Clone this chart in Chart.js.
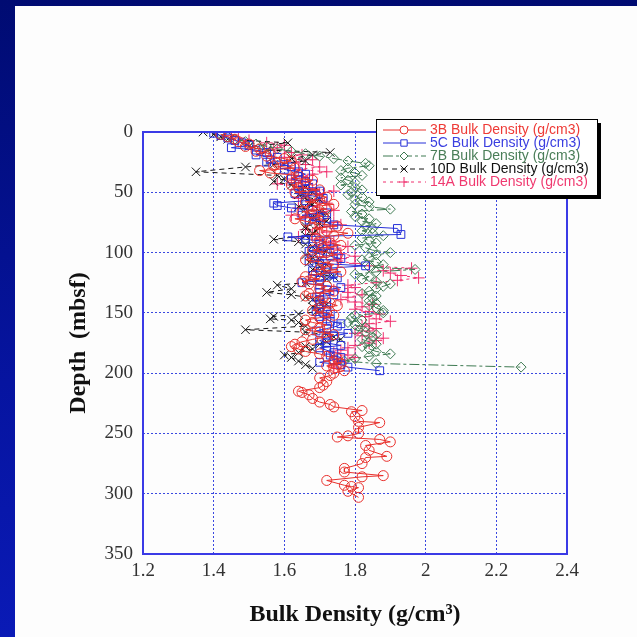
<!DOCTYPE html>
<html>
<head>
<meta charset="utf-8">
<script src="https://cdn.jsdelivr.net/npm/chart.js@4.4.1/dist/chart.umd.min.js"></script>
<style>
  html, body { margin: 0; padding: 0; }
  body {
    width: 637px; height: 637px; position: relative; overflow: hidden;
    background: linear-gradient(180deg, #000b72 0%, #0614a0 60%, #0a1ab6 100%);
  }
  #panel { position: absolute; left: 15px; top: 6px; width: 622px; height: 631px; background: #fdfdfd; }
  #chart { position: absolute; left: 0; top: 0; }
</style>
</head>
<body>
<div id="panel"></div>
<canvas id="chart" width="637" height="637"></canvas>
<script>
// Axis ticks
const xTicks = [1.2, 1.4, 1.6, 1.8, 2, 2.2, 2.4];
const yTicks = [0, 50, 100, 150, 200, 250, 300, 350];

// 3B
const depth3B = [
  2, 4, 6, 8, 10, 12, 14, 16, 18, 20,
  22, 24, 26, 28, 30, 32, 34, 36, 38, 40,
  42, 44, 46, 48, 50, 52, 54, 56, 58, 60,
  62, 64, 66, 68, 70, 72, 74, 76, 78, 80,
  82, 84, 86, 88, 90, 92, 94, 96, 98, 100,
  102, 104, 106, 108, 110, 112, 114, 116, 118, 120,
  122, 124, 126, 128, 130, 132, 134, 136, 138, 140,
  142, 144, 146, 148, 150, 152, 154, 156, 158, 160,
  162, 164, 166, 168, 170, 172, 174, 176, 178, 180,
  182, 184, 186, 188, 190, 192, 194, 196, 198, 200,
  202, 204, 207, 210, 212, 215, 216, 218, 221, 224,
  226, 228, 231, 232, 236, 240, 241, 245, 250, 252,
  253, 255, 257, 260, 264, 269, 270, 275, 279, 282,
  285, 286, 289, 293, 294, 295, 298, 303];
const dens3B = [
  1.42, 1.44, 1.46, 1.47, 1.50, 1.49, 1.53, 1.52, 1.56, 1.55,
  1.60, 1.62, 1.58, 1.57, 1.63, 1.53, 1.56, 1.64, 1.62, 1.68,
  1.66, 1.62, 1.64, 1.70, 1.63, 1.68, 1.72, 1.70, 1.66, 1.74,
  1.68, 1.72, 1.65, 1.68, 1.71, 1.63, 1.66, 1.70, 1.75, 1.68,
  1.72, 1.78, 1.74, 1.69, 1.70, 1.73, 1.76, 1.71, 1.68, 1.72,
  1.75, 1.68, 1.66, 1.71, 1.74, 1.72, 1.70, 1.76, 1.69, 1.66,
  1.70, 1.65, 1.67, 1.72, 1.70, 1.74, 1.67, 1.66, 1.71, 1.70,
  1.73, 1.75, 1.70, 1.68, 1.72, 1.74, 1.70, 1.66, 1.68, 1.72,
  1.70, 1.66, 1.70, 1.74, 1.72, 1.68, 1.65, 1.63, 1.62, 1.64,
  1.66, 1.70, 1.72, 1.75, 1.74, 1.76, 1.72, 1.74, 1.77, 1.74,
  1.73, 1.70, 1.72, 1.71, 1.70, 1.64, 1.65, 1.67, 1.68, 1.70,
  1.73, 1.74, 1.82, 1.79, 1.80, 1.81, 1.87, 1.81, 1.81, 1.78,
  1.75, 1.87, 1.90, 1.83, 1.84, 1.89, 1.83, 1.82, 1.77, 1.77,
  1.88, 1.82, 1.72, 1.77, 1.79, 1.81, 1.78, 1.81];

// 5C
const depth5C = [
  1, 3, 5, 7, 9, 11, 13, 15, 17, 19,
  21, 23, 25, 27, 29, 31, 33, 35, 37, 39,
  41, 43, 45, 47, 49, 51, 53, 55, 57, 59,
  61, 63, 65, 67, 69, 71, 73, 75, 77, 80,
  85, 87, 89, 91, 93, 95, 97, 99, 101, 103,
  105, 107, 109, 111, 113, 115, 117, 119, 121, 123,
  125, 127, 129, 131, 133, 135, 137, 139, 141, 143,
  145, 147, 149, 151, 153, 155, 157, 159, 161, 163,
  165, 167, 169, 171, 173, 175, 177, 179, 181, 183,
  185, 187, 189, 191, 193, 195, 198];
const dens5C = [
  1.40, 1.42, 1.44, 1.46, 1.48, 1.50, 1.45, 1.52, 1.55, 1.52,
  1.58, 1.56, 1.55, 1.60, 1.62, 1.60, 1.64, 1.66, 1.64, 1.62,
  1.66, 1.68, 1.64, 1.66, 1.70, 1.63, 1.68, 1.71, 1.66, 1.57,
  1.58, 1.62, 1.68, 1.72, 1.65, 1.70, 1.67, 1.72, 1.74, 1.92,
  1.93, 1.61, 1.66, 1.72, 1.70, 1.68, 1.74, 1.67, 1.70, 1.73,
  1.76, 1.67, 1.70, 1.83, 1.72, 1.68, 1.74, 1.68, 1.75, 1.70,
  1.65, 1.70, 1.76, 1.72, 1.70, 1.74, 1.69, 1.70, 1.72, 1.70,
  1.72, 1.70, 1.69, 1.73, 1.70, 1.72, 1.73, 1.76, 1.75, 1.72,
  1.69, 1.78, 1.74, 1.72, 1.70, 1.72, 1.76, 1.70, 1.72, 1.74,
  1.73, 1.76, 1.74, 1.70, 1.76, 1.78, 1.87];

// 7B
const depth7B = [
  2, 4, 6, 8, 10, 12, 14, 16, 18, 20,
  22, 24, 26, 28, 30, 32, 34, 36, 38, 40,
  42, 44, 46, 48, 50, 52, 54, 56, 58, 60,
  62, 64, 66, 68, 70, 72, 74, 76, 78, 80,
  82, 84, 86, 88, 90, 92, 94, 96, 98, 100,
  102, 104, 106, 108, 110, 112, 114, 116, 118, 120,
  122, 124, 126, 128, 130, 132, 134, 136, 138, 140,
  142, 144, 146, 148, 150, 152, 154, 156, 158, 160,
  162, 164, 166, 168, 170, 172, 174, 176, 178, 180,
  182, 184, 186, 188, 190, 192, 195];
const dens7B = [
  1.42, 1.44, 1.46, 1.49, 1.52, 1.55, 1.58, 1.62, 1.66, 1.70,
  1.74, 1.78, 1.83, 1.84, 1.78, 1.76, 1.80, 1.82, 1.76, 1.78,
  1.80, 1.76, 1.80, 1.82, 1.79, 1.78, 1.82, 1.80, 1.84, 1.80,
  1.84, 1.90, 1.79, 1.82, 1.80, 1.84, 1.82, 1.86, 1.83, 1.85,
  1.82, 1.85, 1.88, 1.82, 1.84, 1.86, 1.80, 1.83, 1.85, 1.90,
  1.86, 1.84, 1.82, 1.86, 1.88, 1.84, 1.97, 1.86, 1.80, 1.84,
  1.82, 1.86, 1.90, 1.88, 1.86, 1.84, 1.82, 1.86, 1.85, 1.84,
  1.86, 1.84, 1.86, 1.88, 1.88, 1.80, 1.79, 1.82, 1.78, 1.80,
  1.83, 1.80, 1.83, 1.86, 1.85, 1.82, 1.84, 1.86, 1.82, 1.84,
  1.86, 1.90, 1.84, 1.80, 1.77, 1.86, 2.27];

// 10D
const depth10D = [
  0, 2, 4, 6, 9, 12, 15, 17, 19, 22,
  24, 27, 29, 33, 36, 39, 41, 44, 46, 48,
  50, 52, 54, 56, 58, 60, 62, 64, 66, 68,
  70, 72, 74, 76, 78, 80, 82, 84, 86, 89,
  91, 93, 95, 97, 99, 102, 104, 106, 108, 110,
  112, 114, 116, 118, 120, 122, 125, 127, 130, 133,
  135, 137, 139, 141, 143, 145, 147, 149, 151, 153,
  155, 156, 158, 161, 164, 166, 168, 170, 172, 174,
  176, 178, 180, 183, 185, 187, 190, 193, 196];
const dens10D = [
  1.37, 1.40, 1.42, 1.44, 1.61, 1.50, 1.55, 1.73, 1.68, 1.62,
  1.66, 1.57, 1.49, 1.35, 1.58, 1.60, 1.57, 1.62, 1.66, 1.64,
  1.68, 1.64, 1.66, 1.70, 1.67, 1.68, 1.64, 1.66, 1.70, 1.72,
  1.68, 1.68, 1.72, 1.70, 1.66, 1.66, 1.69, 1.68, 1.66, 1.57,
  1.64, 1.66, 1.68, 1.70, 1.72, 1.66, 1.68, 1.70, 1.67, 1.72,
  1.70, 1.68, 1.72, 1.70, 1.74, 1.72, 1.66, 1.58, 1.62, 1.55,
  1.62, 1.66, 1.68, 1.70, 1.72, 1.68, 1.70, 1.69, 1.64, 1.57,
  1.56, 1.62, 1.64, 1.66, 1.49, 1.66, 1.72, 1.74, 1.76, 1.72,
  1.70, 1.66, 1.68, 1.64, 1.60, 1.62, 1.64, 1.66, 1.68];

// 14A
const depth14A = [
  3, 5, 7, 9, 11, 13, 15, 17, 19, 21,
  23, 25, 27, 29, 31, 33, 35, 37, 39, 41,
  43, 45, 47, 49, 51, 53, 55, 57, 59, 61,
  63, 65, 67, 69, 71, 73, 75, 77, 79, 81,
  83, 85, 87, 89, 91, 93, 95, 97, 99, 101,
  103, 105, 107, 109, 111, 113, 115, 117, 119, 121,
  123, 125, 127, 129, 131, 133, 135, 137, 139, 141,
  143, 145, 147, 149, 151, 153, 155, 157, 159, 161,
  163, 165, 167, 169, 171, 173, 175, 177, 179, 181,
  183, 185, 187, 189, 191, 193, 195];
const dens14A = [
  1.45, 1.47, 1.50, 1.55, 1.60, 1.58, 1.57, 1.62, 1.65, 1.60,
  1.68, 1.63, 1.66, 1.70, 1.64, 1.72, 1.68, 1.65, 1.62, 1.66,
  1.58, 1.64, 1.68, 1.74, 1.70, 1.66, 1.64, 1.70, 1.72, 1.68,
  1.64, 1.74, 1.70, 1.62, 1.66, 1.70, 1.74, 1.76, 1.70, 1.66,
  1.72, 1.68, 1.64, 1.70, 1.74, 1.72, 1.78, 1.74, 1.70, 1.76,
  1.80, 1.76, 1.75, 1.80, 1.84, 1.96, 1.88, 1.90, 1.93, 1.98,
  1.92, 1.86, 1.78, 1.80, 1.74, 1.78, 1.82, 1.78, 1.76, 1.80,
  1.85, 1.82, 1.80, 1.84, 1.87, 1.83, 1.86, 1.90, 1.84, 1.82,
  1.86, 1.84, 1.80, 1.82, 1.88, 1.86, 1.84, 1.80, 1.78, 1.76,
  1.74, 1.78, 1.80, 1.76, 1.76, 1.74, 1.74];

const pts = (d, v) => d.map((y, i) => ({ x: v[i], y: y }));

const series = [
  { label: '3B Bulk Density (g/cm3)', d: depth3B, v: dens3B, color: '#e8302c', text: '#ee3a36', style: 'circle', r: 5, dash: [] },
  { label: '5C Bulk Density (g/cm3)', d: depth5C, v: dens5C, color: '#2630d8', text: '#3a3ee0', style: 'rect', r: 5.5, dash: [] },
  { label: '7B Bulk Density (g/cm3)', d: depth7B, v: dens7B, color: '#3e7a52', text: '#4a7e58', style: 'rectRot', r: 5, dash: [10, 3, 3, 3] },
  { label: '10D Bulk Density (g/cm3)', d: depth10D, v: dens10D, color: '#141414', text: '#111111', style: 'crossRot', r: 6, dash: [5, 4] },
  { label: '14A Bulk Density (g/cm3)', d: depth14A, v: dens14A, color: '#f0306e', text: '#f03a70', style: 'cross', r: 6, dash: [3, 4] }
];

// frame box + legend box with shadow
const frameLegend = {
  id: 'frameLegend',
  afterDraw(chart) {
    const { ctx, chartArea: a } = chart;
    ctx.save();
    ctx.setLineDash([]);
    ctx.strokeStyle = '#3a3ae6';
    ctx.lineWidth = 2;
    ctx.strokeRect(a.left, a.top, a.right - a.left, a.bottom - a.top);

    const bx = 376, by = 119, bw = 221, bh = 76;
    ctx.fillStyle = '#000';
    ctx.fillRect(bx + 4, by + 4, bw, bh);
    ctx.fillStyle = '#fff';
    ctx.fillRect(bx, by, bw, bh);
    ctx.strokeStyle = '#000';
    ctx.lineWidth = 1;
    ctx.strokeRect(bx + 0.5, by + 0.5, bw, bh);

    ctx.font = '14px "Liberation Sans", Arial, sans-serif';
    ctx.textBaseline = 'middle';
    series.forEach((s, i) => {
      const y = by + 11 + i * 13;
      ctx.strokeStyle = s.color;
      ctx.lineWidth = 1;
      ctx.setLineDash(s.dash);
      ctx.beginPath();
      ctx.moveTo(bx + 7, y);
      ctx.lineTo(bx + 50, y);
      ctx.stroke();
      ctx.setLineDash([]);
      ctx.fillStyle = '#fff';
      Chart.helpers.drawPoint(ctx, { pointStyle: s.style, radius: s.r - 1, rotation: 0, borderWidth: 1 }, bx + 28, y);
      ctx.fillStyle = s.text;
      ctx.fillText(s.label, bx + 54, y);
    });
    ctx.restore();
  }
};

const serif = '"Liberation Serif", "Times New Roman", serif';

new Chart(document.getElementById('chart'), {
  type: 'scatter',
  data: {
    datasets: series.map(s => ({
      label: s.label,
      data: pts(s.d, s.v),
      showLine: true,
      borderColor: s.color,
      borderWidth: 1,
      borderDash: s.dash,
      backgroundColor: 'rgba(255,255,255,0)',
      pointStyle: s.style,
      pointRadius: s.r,
      pointBorderColor: s.color,
      pointBorderWidth: 1,
      pointBackgroundColor: 'rgba(255,255,255,0)'
    }))
  },
  options: {
    responsive: false,
    animation: false,
    layout: { padding: { left: 0, top: 132, right: 70, bottom: 0 } },
    plugins: { legend: { display: false }, tooltip: { enabled: false } },
    scales: {
      x: {
        type: 'linear',
        min: 1.2,
        max: 2.4,
        afterBuildTicks: scale => { scale.ticks = xTicks.map(v => ({ value: v })); },
        afterFit: scale => { scale.height = 83; },
        ticks: {
          color: '#333',
          padding: 6,
          font: { family: serif, size: 19 },
          callback: v => String(Number(v.toFixed(1)))
        },
        grid: { color: '#3a48e0', lineWidth: 1, drawTicks: false },
        border: { display: false, dash: [2, 2] },
        title: {
          display: true,
          text: 'Bulk Density (g/cm³)',
          color: '#111',
          font: { family: serif, size: 24, weight: 'bold' },
          padding: { top: 0, bottom: 8 }
        }
      },
      y: {
        type: 'linear',
        reverse: true,
        min: 0,
        max: 350,
        afterBuildTicks: scale => { scale.ticks = yTicks.map(v => ({ value: v })); },
        afterFit: scale => { scale.width = 143; },
        ticks: {
          color: '#333',
          padding: 10,
          font: { family: serif, size: 19 }
        },
        grid: { color: '#3a48e0', lineWidth: 1, drawTicks: false },
        border: { display: false, dash: [2, 2] },
        title: {
          display: true,
          text: 'Depth  (mbsf)',
          color: '#111',
          font: { family: serif, size: 24, weight: 'bold' },
          padding: { top: 64, bottom: 0 }
        }
      }
    }
  },
  plugins: [frameLegend]
});
</script>
</body>
</html>
